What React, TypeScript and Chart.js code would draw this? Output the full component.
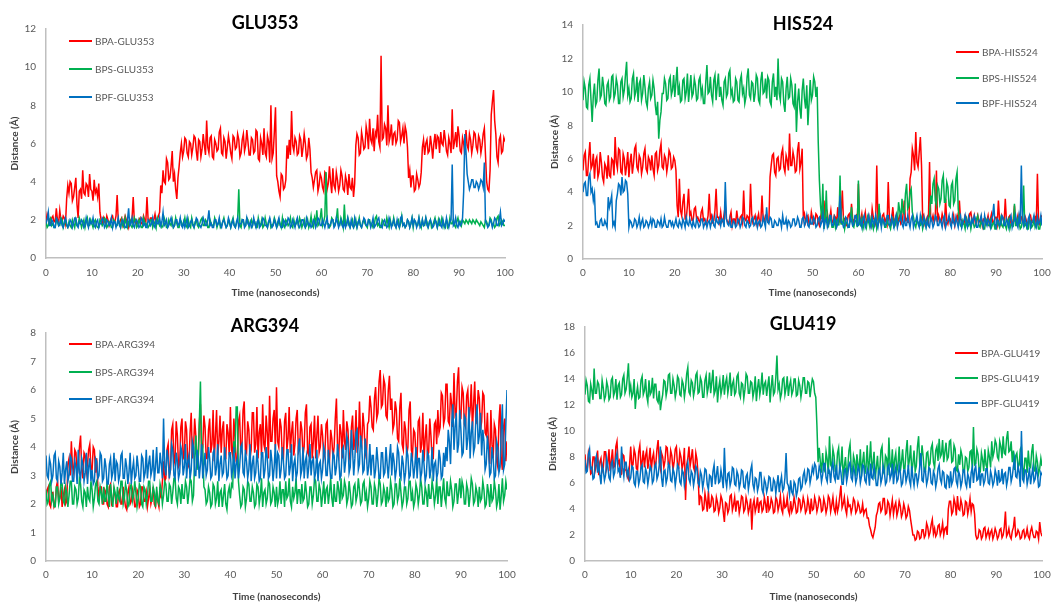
import React, { useEffect, useRef } from "react";
import { Chart, registerables } from "chart.js";

Chart.register(...registerables);
Chart.defaults.font.family = "Lato, 'Open Sans', sans-serif";

// Sampling: one value every 0.25 ns, 0 .. 100 ns (401 values per series)
const TIME_STEP_NS = 0.25;
const X_MIN = 0;
const X_MAX = 100;
const X_STEP = 10;

const SERIES_COLORS = { BPA: "#FF0000", BPS: "#00B050", BPF: "#0070C0" };

// ---------- GLU353 ----------
const GLU353_BPA = [
  1.9,2.3,2.1,1.8,1.8,2.1,2.2,1.9,1.9,2.6,2.0,1.8,2.5,2.0,1.9,2.2,2.1,1.8,3.1,3.8,
  3.4,4.0,3.9,3.0,3.2,3.7,4.2,2.8,2.1,3.5,3.6,3.1,4.6,3.4,3.3,3.9,3.8,3.2,4.4,3.6,
  3.5,3.0,4.1,3.4,3.6,3.2,3.9,2.4,2.0,1.8,2.1,1.9,1.8,2.2,2.0,1.7,1.9,2.1,2.2,1.9,
  1.9,2.2,3.3,1.9,1.8,2.0,2.1,1.7,1.9,2.2,2.0,1.8,1.6,2.0,1.9,2.1,3.2,1.9,2.0,1.8,
  1.9,2.0,2.1,1.8,1.8,2.2,2.0,1.9,3.2,2.0,1.9,2.1,2.1,1.8,2.0,2.3,1.9,2.0,2.2,2.4,
  3.8,3.4,4.6,4.0,3.9,5.2,5.0,4.1,4.2,4.8,5.6,4.0,4.4,3.6,3.1,4.2,4.8,5.5,6.0,5.3,
  5.6,6.3,6.2,5.5,5.3,6.1,6.0,5.4,5.8,6.4,6.3,5.6,5.1,6.2,6.1,5.3,5.7,6.5,5.9,5.4,
  7.2,5.8,5.5,6.3,6.4,5.3,5.2,6.2,6.0,5.6,5.7,6.6,6.8,5.5,5.4,6.3,6.1,5.2,5.8,6.4,
  6.0,5.5,5.2,6.4,6.3,5.7,5.8,6.5,6.2,5.3,5.5,6.2,6.5,5.6,5.9,6.7,6.1,5.4,5.4,6.3,
  6.2,5.5,5.6,6.7,6.6,5.2,5.1,6.3,6.0,5.4,6.8,5.5,5.3,6.4,6.1,5.0,8.0,5.2,5.5,6.6,
  7.9,4.3,4.0,3.5,3.2,4.4,4.3,3.6,3.7,4.1,5.9,5.2,6.2,5.4,7.7,5.9,5.6,6.3,6.1,5.4,
  5.5,6.4,6.2,5.3,5.8,6.5,6.0,5.2,5.4,6.3,5.7,4.5,4.2,3.7,4.1,4.5,4.6,3.5,3.8,4.4,
  4.2,3.7,3.5,4.5,4.4,3.6,3.9,4.8,4.0,3.4,4.7,3.8,3.6,4.5,4.1,3.5,3.8,4.6,4.3,3.6,
  3.5,4.3,4.0,3.3,4.4,3.7,3.6,4.2,3.2,3.9,5.9,6.5,6.3,5.4,5.5,6.6,6.2,5.7,5.8,6.9,
  6.5,5.7,7.3,6.2,6.0,6.8,5.6,6.6,6.4,7.5,6.1,5.8,10.6,6.2,6.3,7.0,6.8,5.9,8.0,6.1,
  6.4,7.0,5.9,6.5,6.6,6.0,6.2,7.2,7.1,6.1,6.4,6.8,6.0,6.9,6.6,5.8,4.2,4.6,3.7,4.3,
  4.3,3.5,3.6,4.4,4.1,3.7,3.9,4.5,5.8,6.2,5.4,6.0,6.2,5.5,5.6,6.4,5.9,5.2,6.0,6.5,
  5.7,6.4,6.3,5.5,6.6,6.0,5.9,6.7,6.2,5.6,5.4,6.3,6.0,5.5,7.8,5.7,6.1,6.6,5.8,6.9,
  6.4,5.6,5.5,6.3,6.0,5.4,6.7,5.9,5.7,6.5,6.2,5.5,5.9,6.6,6.5,5.8,5.6,6.4,6.2,5.5,
  5.9,6.5,6.8,5.4,4.0,3.6,3.5,4.6,7.5,8.2,8.8,7.2,6.5,5.3,5.0,6.2,6.4,5.5,5.6,6.3,
  6.1,
];
const GLU353_BPS = [
  1.9,1.6,1.7,2.0,2.1,1.7,1.8,1.6,1.6,2.0,1.9,1.7,1.7,2.1,2.0,1.6,1.8,2.0,1.7,1.6,
  1.9,1.7,1.6,2.0,1.8,1.6,2.0,1.7,1.7,2.1,1.9,1.6,1.8,2.0,1.6,1.9,2.1,1.7,1.7,2.0,
  1.8,1.6,1.9,2.0,1.7,1.6,1.6,2.0,1.9,1.7,1.8,2.1,2.0,1.6,1.7,1.9,1.8,1.6,1.6,2.0,
  1.9,1.7,1.7,2.0,1.8,1.6,2.0,1.7,1.6,2.1,1.8,1.6,1.9,2.0,1.7,1.6,1.8,2.1,1.9,1.6,
  1.7,2.0,1.8,1.6,1.6,2.1,1.9,1.7,1.8,1.6,1.7,2.0,2.0,1.6,1.8,1.9,1.6,2.1,1.9,1.7,
  1.8,1.6,1.7,2.1,1.9,1.6,1.6,2.0,1.8,1.7,2.0,1.6,1.7,2.1,1.8,1.6,1.6,2.0,1.9,1.7,
  1.8,2.1,1.7,1.6,2.0,1.7,1.6,2.1,1.8,1.6,1.9,2.0,1.7,1.6,1.8,2.0,2.1,1.7,1.7,2.0,
  1.9,1.6,1.6,2.0,1.8,1.7,1.7,2.1,1.9,1.6,1.8,2.0,1.6,1.7,1.9,2.1,1.8,1.6,1.7,2.0,
  1.8,1.6,1.9,2.1,1.7,1.6,1.8,2.0,3.6,1.7,1.6,2.0,1.9,1.7,1.7,2.1,2.0,1.6,1.8,2.0,
  1.7,2.0,1.9,1.6,1.6,2.1,1.8,1.7,2.0,1.6,1.7,2.1,1.8,1.6,1.9,2.0,1.6,1.7,1.8,2.1,
  1.9,1.6,1.7,2.0,1.8,1.6,2.1,1.7,1.6,2.0,1.9,1.7,1.8,2.1,1.7,1.6,2.0,1.7,1.8,2.0,
  1.7,2.1,1.9,1.6,1.8,2.0,1.6,1.7,2.0,1.6,1.8,2.2,1.7,1.6,2.1,1.8,2.5,1.7,1.8,2.1,
  2.6,1.7,1.9,2.2,4.5,1.8,1.8,1.6,1.7,2.1,2.0,1.7,1.8,2.0,2.6,1.7,1.7,2.1,1.9,1.6,
  2.8,1.7,1.7,2.1,1.9,1.6,1.8,2.0,1.6,1.7,2.0,1.6,1.8,2.1,1.7,1.6,1.9,2.0,1.8,1.7,
  1.6,2.0,2.0,1.7,1.8,1.6,1.7,2.1,2.2,1.7,1.8,1.6,1.6,2.0,1.9,1.7,1.7,2.1,1.8,1.6,
  2.0,1.7,1.7,2.1,1.8,1.6,1.9,2.0,1.6,1.8,2.2,1.7,1.8,1.6,1.7,2.0,1.9,1.6,1.8,2.1,
  1.6,2.0,1.9,1.7,1.7,2.1,1.8,1.6,2.0,1.7,1.7,2.1,1.9,1.6,1.8,2.0,1.6,1.7,1.9,2.1,
  1.8,1.6,2.0,1.7,1.7,2.1,1.9,1.6,1.8,2.0,1.6,1.7,2.1,1.8,1.8,2.0,1.7,1.6,1.9,2.1,
  1.8,1.9,1.7,2.0,1.9,1.8,2.0,1.9,1.8,2.0,1.9,1.8,2.0,1.9,1.8,2.0,1.9,1.8,1.7,1.9,
  1.8,1.7,1.6,2.0,1.9,1.7,1.7,2.1,2.0,1.7,1.8,1.6,1.7,2.1,2.2,1.7,1.8,2.0,1.9,1.7,
  1.7,
];
const GLU353_BPF = [
  1.8,2.0,2.4,1.7,1.7,2.0,1.9,1.6,1.6,2.1,2.0,1.7,1.8,2.0,1.7,1.6,1.9,2.1,1.8,1.6,
  1.7,2.0,1.9,1.6,1.8,2.1,2.1,1.7,1.6,1.9,1.8,2.0,1.9,1.6,1.7,2.1,1.8,1.6,2.0,1.8,
  1.8,2.1,1.7,1.6,1.9,2.0,1.6,1.8,1.8,2.1,2.0,1.6,1.7,2.0,1.9,1.7,1.8,2.1,1.6,1.9,
  1.9,1.6,1.8,2.1,1.7,1.6,1.9,2.0,1.8,1.6,1.6,2.0,2.6,1.7,1.8,2.1,1.7,1.6,1.9,2.0,
  1.8,1.6,1.7,2.1,2.0,1.7,1.8,1.6,1.6,2.0,1.9,1.7,1.8,2.1,1.7,1.6,2.0,1.8,1.8,2.1,
  1.7,1.9,2.4,1.7,1.8,2.0,1.6,1.7,1.9,2.1,1.8,1.6,1.7,2.0,2.0,1.7,1.8,2.1,1.7,1.6,
  1.9,1.6,1.8,2.1,1.6,1.7,1.9,2.0,1.7,1.6,1.8,2.1,2.0,1.7,1.7,1.6,1.8,2.1,1.9,1.7,
  1.7,2.0,2.5,1.7,1.8,1.6,1.6,2.0,2.0,1.7,1.8,2.1,1.7,1.6,1.9,2.0,1.8,1.6,1.7,2.1,
  1.9,1.6,1.8,2.0,1.7,1.6,1.9,2.1,1.6,1.8,1.8,2.0,2.0,1.6,1.7,2.1,1.8,1.7,1.9,1.6,
  1.7,2.1,1.8,1.6,1.9,2.0,1.6,1.7,1.8,2.1,2.0,1.7,1.7,1.6,1.9,2.1,1.8,1.6,1.7,2.0,
  1.8,1.6,1.9,2.1,1.7,1.6,1.6,2.0,1.9,1.7,1.8,2.1,2.0,1.6,1.7,2.0,1.8,1.6,1.9,2.1,
  1.7,1.6,1.8,2.0,2.0,1.7,1.6,2.1,1.9,1.7,1.8,1.6,1.7,2.0,1.9,1.6,1.8,2.1,2.0,1.7,
  1.7,2.0,1.8,1.6,1.9,2.1,1.6,1.7,1.8,2.0,2.0,1.6,1.7,2.1,1.9,1.6,1.8,2.0,1.7,1.6,
  1.9,1.6,1.8,2.1,1.7,1.6,2.0,1.7,1.6,2.1,1.8,1.6,1.9,2.0,1.7,1.6,1.8,2.1,2.0,1.7,
  1.7,2.0,1.9,1.6,1.8,2.1,1.6,1.7,1.8,2.0,2.1,1.7,1.7,1.6,1.9,2.0,1.8,1.6,1.7,2.1,
  1.9,1.6,1.8,2.0,1.7,1.6,2.0,1.7,1.6,2.1,2.2,1.7,1.8,1.6,1.7,2.0,1.9,1.6,1.8,2.1,
  1.7,2.0,1.9,1.6,1.8,2.1,1.6,1.7,2.0,1.7,1.8,2.1,1.7,1.6,1.9,2.0,1.8,1.6,1.7,2.0,
  1.9,1.6,1.8,2.0,1.7,1.6,2.0,1.7,1.6,2.1,1.8,1.6,1.9,2.0,4.9,1.7,1.8,2.1,1.7,1.6,
  1.9,1.7,1.8,2.1,3.5,6.5,5.6,4.4,4.0,3.6,3.8,4.1,4.1,3.7,3.7,4.0,3.9,3.6,3.8,4.1,
  4.0,3.7,5.0,1.9,1.8,1.6,1.7,2.0,1.9,1.6,1.8,2.1,2.0,1.7,1.7,2.0,2.4,1.7,1.8,2.0,
  1.9,
];

// ---------- HIS524 ----------
const HIS524_BPA = [
  5.3,6.2,6.4,5.0,5.0,6.1,7.0,5.4,5.6,6.3,4.8,5.9,6.1,4.9,5.2,6.4,5.8,4.9,4.6,5.7,
  5.5,4.8,6.2,5.0,4.9,6.0,5.9,5.0,7.3,5.8,5.4,6.6,6.5,5.2,5.1,6.3,6.0,5.0,5.6,6.4,
  4.9,5.8,6.3,5.1,5.7,6.6,6.8,5.5,5.3,6.2,6.0,5.1,5.5,6.3,6.6,5.4,5.2,6.1,5.9,5.3,
  6.2,5.4,5.0,6.3,6.4,5.3,5.6,6.5,6.9,5.5,5.4,6.2,6.0,5.2,5.7,6.5,6.3,5.4,5.5,6.1,
  5.9,5.3,3.2,2.5,4.8,2.9,2.6,3.4,3.9,2.4,2.4,3.2,4.2,2.6,2.8,2.3,2.3,3.0,3.1,2.4,
  2.5,2.3,2.2,2.8,3.0,2.3,2.4,2.1,2.2,2.6,3.9,2.4,2.6,2.2,2.3,2.9,4.2,2.5,2.5,2.2,
  2.8,2.2,2.3,2.7,3.2,2.4,2.2,2.1,2.5,2.8,2.0,2.4,2.4,2.1,2.9,2.3,2.1,2.5,2.6,2.2,
  4.1,2.4,2.3,2.6,2.5,2.1,4.5,2.7,2.2,2.4,2.6,2.1,2.4,2.7,2.1,2.3,3.8,2.4,2.3,2.6,
  2.5,2.2,2.2,4.9,5.6,6.2,6.3,5.2,5.0,6.0,6.1,5.3,5.4,6.3,6.6,5.5,5.2,6.2,5.9,5.3,
  7.5,5.6,5.6,6.4,6.0,5.2,5.3,6.5,7.0,5.4,5.8,6.6,2.4,2.7,2.2,2.5,2.6,2.1,2.1,2.8,
  2.4,2.1,2.2,2.7,2.6,2.2,2.0,2.5,2.8,2.2,3.5,2.3,2.3,2.7,2.1,2.4,2.9,2.2,2.2,2.6,
  2.5,2.1,3.1,2.3,2.2,2.7,4.1,2.3,2.4,2.1,2.0,2.6,2.7,2.2,3.3,2.4,2.2,2.5,2.6,2.1,
  4.5,2.3,2.3,2.7,2.1,2.4,2.8,2.2,2.4,2.6,2.2,2.0,3.0,2.5,2.3,2.1,5.6,2.4,2.5,2.2,
  2.1,2.6,2.7,2.2,2.4,2.1,4.6,2.5,2.2,2.4,3.1,2.2,2.3,2.6,2.0,2.4,2.6,2.1,2.2,2.7,
  3.5,2.3,2.4,2.2,2.2,4.8,5.2,6.6,6.2,5.3,7.6,5.8,5.5,6.4,7.3,5.6,2.4,2.6,2.1,2.3,
  2.5,2.2,5.8,2.4,2.3,2.6,2.2,2.4,5.3,2.2,2.6,2.3,2.2,2.7,2.4,2.1,3.6,2.3,2.1,2.5,
  2.4,2.1,2.2,2.6,2.0,2.3,2.6,2.2,3.5,2.4,2.3,2.1,2.1,2.6,2.5,2.2,2.2,2.7,2.8,2.3,
  2.3,2.6,2.1,2.2,2.6,2.3,2.2,2.5,2.0,2.4,2.4,2.1,2.3,2.6,2.1,2.4,2.7,2.2,2.2,2.5,
  2.5,2.1,3.5,2.4,2.1,2.6,2.4,2.2,3.6,2.3,2.2,2.5,2.6,2.1,2.0,2.4,3.2,2.2,2.3,2.6,
  2.1,2.4,2.5,2.2,2.2,2.6,2.4,2.1,2.0,2.5,2.6,2.2,2.2,2.4,2.5,2.1,5.1,2.3,2.1,2.5,
  2.6,
];
const HIS524_BPS = [
  9.5,10.6,10.2,9.1,9.0,10.4,10.8,9.5,8.2,9.8,10.5,9.2,9.4,10.7,11.4,9.6,9.8,10.9,10.3,9.3,
  9.2,10.4,10.6,9.5,9.7,10.9,11.0,9.6,9.9,10.8,10.4,9.3,9.3,10.6,10.8,9.7,10.1,11.0,11.8,9.8,
  10.2,9.4,9.6,10.8,11.1,9.7,10.0,10.9,9.4,10.5,10.7,9.5,9.9,11.0,10.3,9.4,9.1,10.2,10.6,9.6,
  9.8,10.7,10.2,9.2,8.6,9.4,7.2,8.3,8.8,9.9,9.9,10.8,10.5,9.5,9.6,10.7,10.9,9.8,10.1,11.0,
  9.7,10.6,11.5,9.8,10.3,9.4,9.5,10.7,10.8,9.6,10.0,11.1,9.4,10.2,11.0,9.7,9.9,10.8,10.4,9.5,
  9.6,10.7,10.9,9.8,10.2,9.3,9.3,10.6,11.6,9.9,10.0,10.9,9.8,9.4,10.7,11.0,9.5,10.4,11.1,9.7,
  10.3,9.5,9.2,10.6,10.8,9.7,9.9,11.1,11.3,9.8,10.1,9.4,9.5,10.8,10.6,9.5,9.4,10.7,11.0,9.9,
  10.2,9.3,9.7,10.9,11.4,9.8,9.6,10.6,10.5,9.4,9.9,11.0,10.8,9.5,9.3,10.7,11.2,9.9,10.0,10.8,
  9.6,10.9,10.7,9.4,9.2,10.6,11.1,9.7,10.3,9.5,12.0,9.9,9.5,10.8,10.6,9.3,8.8,10.2,10.9,9.6,
  9.7,10.8,10.4,9.3,9.1,10.5,7.6,9.4,10.2,9.0,8.4,10.1,10.8,9.6,9.0,10.4,8.0,9.3,10.7,9.5,
  9.8,10.9,10.6,9.7,10.3,7.0,4.7,3.2,2.4,4.5,1.8,2.3,4.1,2.2,2.0,2.5,2.3,1.9,1.9,2.4,
  1.9,2.3,2.4,2.0,5.0,2.1,2.1,2.4,1.8,2.2,2.2,1.9,2.0,2.4,3.1,2.0,1.9,2.3,2.3,1.9,
  4.7,2.1,2.0,2.4,1.8,2.1,2.2,1.9,2.5,2.2,1.9,2.4,2.1,1.8,2.3,2.5,1.8,2.1,3.3,2.2,
  2.0,2.4,2.2,1.9,1.9,2.3,2.1,2.0,1.8,2.2,2.4,1.9,2.0,2.6,2.2,3.4,2.9,2.3,3.6,2.8,
  2.7,3.9,4.5,3.0,3.2,4.0,4.2,2.8,2.5,2.1,1.9,2.3,2.2,2.0,2.0,2.4,1.8,2.1,2.3,1.9,
  2.1,2.4,2.6,3.8,3.3,4.5,4.8,3.5,3.2,4.4,4.2,3.3,3.6,4.7,5.0,3.4,3.4,4.6,4.3,3.2,
  3.1,4.4,4.6,3.3,3.5,4.8,5.2,3.0,2.3,2.0,1.9,2.3,2.1,1.8,2.4,2.1,2.0,2.3,1.8,2.2,
  2.2,1.9,2.0,2.4,2.6,2.0,1.9,2.3,2.1,1.8,1.8,2.4,2.3,2.0,2.0,2.3,1.9,2.1,2.2,1.8,
  1.8,2.3,2.1,1.9,2.4,2.0,1.9,2.3,2.0,1.8,2.2,2.4,1.8,2.1,2.1,2.0,3.3,2.0,2.0,2.4,
  2.2,1.8,1.9,2.3,4.4,2.0,2.1,1.8,1.8,2.3,2.3,1.9,2.0,2.4,1.9,2.1,2.2,1.8,1.8,2.2,
  2.1,
];
const HIS524_BPF = [
  4.0,4.5,4.6,3.8,3.8,4.9,5.1,4.0,4.2,3.5,3.9,2.1,2.2,1.9,1.9,2.3,2.4,2.0,2.0,2.3,
  2.1,1.9,3.7,3.1,3.4,3.8,2.0,2.2,1.9,3.5,3.9,4.5,4.4,3.8,4.9,4.0,4.1,4.7,4.6,3.9,
  1.9,2.3,2.2,1.9,2.0,2.4,2.3,1.9,2.1,2.5,1.9,2.2,2.4,1.9,2.0,2.3,2.2,1.9,2.1,2.4,
  2.0,2.4,2.3,1.9,1.9,2.3,2.2,2.0,2.4,1.9,2.0,2.5,2.1,1.9,1.9,2.3,2.3,2.0,2.2,1.9,
  2.1,2.4,2.0,1.9,2.3,2.1,1.9,2.4,2.2,1.9,2.5,2.1,2.0,2.4,2.1,1.9,2.3,2.0,1.9,2.4,
  2.2,1.9,2.0,2.4,2.4,1.9,2.1,2.3,1.9,2.2,2.3,1.9,2.2,2.5,2.0,1.9,2.5,2.2,2.1,2.4,
  2.0,2.4,2.3,1.9,4.6,2.4,2.1,2.0,2.4,1.9,1.9,2.3,2.2,1.9,2.0,2.4,2.3,1.9,2.1,2.5,
  2.4,2.0,1.9,2.3,2.2,1.9,2.0,2.4,2.5,2.0,2.1,2.4,1.9,2.2,2.3,1.9,2.0,2.5,2.2,1.9,
  3.1,2.2,2.1,2.5,2.4,1.9,1.9,2.3,2.2,2.0,2.0,2.4,2.3,1.9,2.6,2.1,2.1,2.4,1.9,2.3,
  2.2,1.9,2.0,2.4,2.4,2.0,2.1,2.5,2.3,1.9,1.9,2.4,2.5,2.0,2.2,2.6,2.0,1.9,2.4,2.1,
  2.1,2.5,2.3,1.9,2.0,2.4,2.5,2.0,2.2,2.7,1.9,2.3,2.4,1.9,2.1,2.6,2.6,2.0,2.0,2.5,
  2.3,1.9,2.1,2.6,3.8,2.2,2.2,1.9,2.0,2.5,2.4,1.9,1.9,2.5,2.3,2.0,2.1,2.6,2.6,2.0,
  2.0,2.5,2.2,1.9,2.4,2.6,1.9,2.1,2.3,2.6,2.1,1.9,2.5,2.2,2.0,2.6,2.2,1.9,2.4,2.6,
  1.9,2.4,2.3,2.0,2.1,2.6,2.6,2.0,2.0,2.5,2.2,1.9,2.4,2.6,1.9,2.2,2.3,2.6,2.1,1.9,
  2.5,2.0,2.0,2.6,2.2,1.9,2.4,2.6,1.9,2.2,2.3,2.6,2.1,1.9,2.6,2.2,2.0,2.5,2.2,1.9,
  2.4,2.0,1.9,2.5,2.3,1.9,2.1,2.6,2.5,2.0,2.0,2.4,2.2,1.9,2.4,2.6,1.9,2.2,2.3,2.6,
  2.1,1.9,2.6,2.2,2.0,2.5,2.2,1.9,2.4,2.6,1.9,2.2,2.3,2.6,2.1,1.9,2.5,2.2,2.0,2.4,
  2.2,2.6,2.4,1.9,1.9,2.3,2.3,2.6,2.1,1.9,2.6,2.2,2.0,2.4,2.2,1.9,2.4,2.6,3.3,2.1,
  1.9,2.4,2.3,2.0,2.1,2.6,2.5,2.0,2.0,2.4,2.2,1.9,2.4,2.6,1.9,2.2,2.3,2.6,2.1,1.9,
  2.6,2.1,5.6,2.3,2.0,2.5,2.2,1.9,2.4,2.6,1.9,2.2,2.3,2.6,2.1,1.9,2.5,2.1,2.2,2.6,
  2.0,
];

// ---------- ARG394 ----------
const ARG394_BPA = [
  2.1,2.5,2.6,2.0,1.9,2.4,2.4,1.9,2.0,2.6,2.8,2.1,2.2,2.6,1.9,2.3,2.5,2.0,2.1,3.4,
  3.6,3.0,4.2,3.3,3.1,3.9,3.8,3.0,3.3,4.0,4.4,3.2,2.9,3.8,3.7,3.1,3.4,3.9,4.1,3.2,
  3.2,4.0,3.9,3.1,3.6,2.6,2.2,2.6,2.6,2.0,2.0,2.5,2.4,2.0,1.9,2.6,2.7,2.0,2.1,2.5,
  2.3,1.9,1.9,2.4,2.5,2.0,2.0,2.6,2.2,1.9,1.8,2.4,2.6,2.0,2.1,2.5,2.3,1.9,1.9,2.5,
  2.4,1.9,2.0,2.6,2.6,2.1,2.1,2.4,1.9,2.2,2.5,2.0,2.2,2.6,2.0,1.9,2.4,2.1,1.9,2.6,
  2.2,2.8,3.5,2.8,2.9,3.9,4.1,3.0,3.2,4.6,4.8,3.4,3.6,4.9,4.4,3.3,3.4,4.7,5.0,3.6,
  3.7,4.9,4.6,3.4,3.3,4.5,5.2,3.6,3.9,5.0,4.4,3.5,3.5,4.8,5.5,3.8,4.0,5.1,4.7,3.6,
  3.6,4.6,5.0,3.8,4.1,5.3,3.5,4.4,5.3,3.7,4.2,5.1,3.8,4.6,4.9,3.6,3.6,4.8,4.5,3.7,
  5.4,3.9,3.7,5.0,4.3,3.5,3.4,4.9,5.1,3.8,4.0,5.3,5.6,3.9,3.8,4.9,4.6,3.6,3.9,5.2,
  5.2,3.8,4.1,5.4,3.6,4.5,4.8,3.7,5.5,4.1,3.9,5.1,4.5,3.6,5.8,4.2,4.2,5.0,5.3,3.9,
  6.1,4.2,4.0,5.0,4.7,3.7,3.6,4.9,5.2,3.9,4.3,5.4,3.8,4.5,4.9,3.7,4.1,5.0,5.3,3.8,
  3.9,4.9,4.6,3.7,4.0,5.2,5.5,3.8,3.7,4.7,4.8,3.6,4.2,5.1,3.6,4.4,5.1,3.8,4.0,4.8,
  4.4,3.6,3.8,4.8,4.9,3.7,3.5,4.6,4.3,3.6,4.0,5.0,5.7,3.9,3.7,4.8,4.5,3.6,5.3,4.2,
  3.9,4.9,4.6,3.7,3.5,4.7,5.1,3.9,4.2,5.3,3.8,4.1,5.6,4.3,4.1,5.2,4.7,3.8,3.6,4.8,
  4.9,5.8,5.4,4.7,4.6,5.7,6.1,5.0,5.2,6.3,6.7,5.4,5.5,6.4,6.2,5.1,5.0,6.0,6.5,5.3,
  5.7,4.6,4.8,5.6,5.3,4.3,4.2,5.4,5.9,4.1,3.9,4.9,4.6,3.7,4.0,5.3,5.6,3.9,3.7,4.6,
  4.5,3.7,3.6,4.9,5.0,3.8,4.1,5.2,3.5,4.3,4.8,3.7,3.8,5.0,4.4,3.6,3.6,4.8,4.9,4.1,
  5.3,4.5,4.7,5.9,5.8,4.8,5.0,6.2,6.2,4.9,4.8,5.9,5.5,4.7,6.6,5.1,5.2,6.3,6.8,5.0,
  5.0,6.1,5.9,4.8,4.7,5.8,6.0,4.9,5.3,6.2,4.6,5.5,6.3,4.8,5.1,6.0,5.7,4.6,4.9,5.9,
  5.8,4.5,4.4,5.2,4.0,3.4,5.3,4.1,3.6,4.8,4.6,3.5,3.3,4.9,5.5,3.6,3.2,4.7,5.0,3.5,
  4.2,
];
const ARG394_BPS = [
  2.5,2.0,2.1,2.7,2.8,2.1,2.3,1.9,1.9,2.6,2.6,2.0,2.2,2.8,2.7,2.1,2.0,2.6,2.4,1.9,
  2.3,2.8,2.8,2.0,2.0,2.6,2.5,2.0,2.2,2.9,2.7,2.1,1.9,2.5,2.4,1.9,2.6,2.2,2.1,2.8,
  2.5,1.9,2.2,2.7,2.8,2.1,2.0,2.6,2.4,2.0,2.6,2.1,2.1,2.8,2.3,1.9,2.7,2.2,1.9,2.6,
  2.4,2.0,2.6,2.2,2.1,2.8,2.8,2.0,2.2,2.7,2.5,1.9,2.0,2.6,2.7,2.1,2.3,2.8,2.4,1.9,
  2.2,2.7,2.6,2.0,1.9,2.6,2.5,2.0,2.3,2.8,2.8,2.1,2.1,2.6,2.4,1.9,2.6,2.1,2.0,2.7,
  2.5,2.0,2.3,2.8,2.7,2.1,2.1,2.7,2.6,2.0,2.4,2.9,2.9,2.2,2.0,2.6,2.5,2.0,2.7,2.2,
  2.2,2.8,2.6,2.0,2.4,2.9,2.8,2.1,2.3,3.6,4.4,3.2,3.5,4.8,6.3,3.9,4.0,2.6,2.5,2.0,
  2.1,2.6,2.4,1.9,2.0,2.7,2.6,2.0,2.2,2.8,1.9,2.4,2.5,1.9,2.3,2.7,2.0,1.8,2.4,2.6,
  2.2,2.7,2.6,4.2,3.8,5.4,5.4,2.8,2.3,1.9,2.0,2.6,2.5,1.9,2.2,2.8,2.7,2.1,2.1,2.6,
  2.4,1.9,2.0,2.7,2.6,2.0,2.3,2.9,1.9,2.4,2.5,2.0,2.2,2.8,2.7,2.0,2.1,2.6,2.4,1.9,
  2.6,2.0,2.2,2.8,2.0,2.5,2.5,1.9,2.8,2.2,2.3,2.9,2.1,1.9,2.6,2.2,2.4,2.9,2.0,2.5,
  2.5,2.0,2.7,2.1,2.2,2.8,2.4,1.9,2.0,2.6,2.6,2.0,2.3,2.9,2.8,2.1,2.1,2.7,2.5,1.9,
  2.3,2.8,2.0,2.5,2.6,2.0,2.4,2.9,2.2,1.9,2.7,2.1,2.1,2.8,2.5,2.0,2.9,2.2,2.3,2.8,
  2.6,2.0,2.2,2.8,2.4,1.9,2.0,2.6,2.7,2.1,2.3,2.9,2.5,2.0,2.1,2.7,2.8,2.1,2.4,1.9,
  2.2,2.8,2.6,2.0,2.0,2.7,2.5,1.9,2.3,2.9,2.7,2.0,2.1,2.6,2.4,1.9,2.6,2.1,2.2,2.8,
  2.5,1.9,2.0,2.7,2.7,2.1,2.3,2.9,2.4,1.9,2.1,2.6,2.6,2.0,2.2,2.8,2.8,2.1,2.4,1.9,
  2.1,2.7,2.5,2.0,2.3,2.9,2.6,2.0,2.0,2.6,2.4,1.9,2.7,2.2,2.2,2.8,2.5,2.0,2.3,2.9,
  2.0,2.6,2.6,1.9,2.4,2.9,2.2,2.0,2.8,2.3,2.3,2.8,2.5,1.9,2.1,2.7,2.7,2.0,2.4,2.9,
  2.2,2.8,2.6,2.0,2.0,2.7,2.5,1.9,2.3,2.9,2.7,2.0,2.1,2.6,2.4,1.9,2.6,2.1,2.2,2.8,
  2.5,1.9,2.0,2.7,2.4,1.9,2.7,2.1,2.2,2.8,2.5,1.9,2.1,2.7,1.8,2.3,2.9,2.1,2.3,2.8,
  2.5,
];
const ARG394_BPF = [
  3.7,3.0,2.9,3.6,3.4,2.8,3.0,3.7,3.8,2.9,2.8,3.5,3.3,2.7,3.1,3.8,2.7,3.2,3.5,2.8,
  3.0,3.7,3.6,2.8,2.8,3.5,3.3,2.7,3.9,3.1,2.9,3.6,3.4,2.8,3.1,3.8,2.7,3.3,3.6,2.8,
  3.2,2.7,2.8,3.6,3.5,2.9,3.0,3.8,3.7,2.8,2.9,3.6,3.3,2.7,2.7,3.4,3.6,2.9,3.1,3.8,
  2.8,3.5,3.4,2.8,3.0,3.7,3.8,2.9,2.9,3.6,3.3,2.7,3.1,3.8,2.7,3.2,3.5,2.9,3.0,3.7,
  3.3,2.8,2.8,3.7,3.6,2.9,3.1,3.9,2.9,3.4,3.7,3.0,3.2,3.9,2.8,3.3,4.0,3.1,3.1,3.8,
  3.4,2.9,5.0,3.3,3.0,3.9,3.6,2.9,3.2,4.1,3.9,3.0,2.9,3.8,3.5,2.9,3.1,4.0,3.8,3.0,
  3.3,4.1,2.9,3.5,3.7,2.9,3.2,4.2,4.0,3.0,3.0,3.9,3.6,2.9,3.4,4.1,2.9,3.3,3.8,3.0,
  3.2,4.0,3.6,2.9,3.0,3.8,3.9,3.0,3.3,4.1,2.8,3.4,3.7,3.0,3.1,4.0,3.5,2.9,3.0,3.8,
  3.8,3.0,3.2,4.0,2.9,3.4,3.6,2.9,3.3,4.0,4.1,3.1,3.0,3.9,3.5,2.9,3.2,4.1,2.8,3.4,
  3.7,2.9,3.1,3.9,3.4,2.8,2.9,3.8,3.8,2.9,3.2,4.0,3.6,2.9,3.0,3.9,3.5,2.8,3.3,4.1,
  2.9,3.8,3.7,2.9,3.2,4.0,3.5,2.9,3.0,3.9,3.9,3.0,3.3,4.1,2.8,3.4,3.6,2.9,3.1,4.0,
  4.3,3.0,3.2,4.0,2.9,3.5,3.7,2.9,3.3,4.1,3.0,3.5,3.6,2.9,3.1,3.9,2.8,3.4,3.5,2.9,
  3.2,4.0,3.8,3.0,3.0,3.9,3.4,2.9,2.9,3.8,3.7,3.0,3.3,4.1,3.6,2.9,3.0,3.9,4.0,3.1,
  3.5,4.4,4.2,3.1,3.3,4.6,3.9,3.0,3.6,4.5,4.6,3.2,3.4,4.4,4.0,3.1,3.2,4.3,3.8,3.0,
  3.3,4.1,3.0,3.7,3.7,2.9,3.2,4.0,3.5,2.9,2.9,3.8,3.8,3.0,3.1,4.0,3.4,2.9,3.6,4.1,
  3.0,3.8,3.5,2.9,3.2,4.0,3.8,3.0,2.9,3.7,3.4,2.8,3.1,3.9,3.7,2.9,3.0,3.8,3.5,2.9,
  3.3,4.0,2.9,3.6,3.6,2.9,3.1,3.9,3.4,2.8,3.0,3.8,3.7,2.9,3.2,4.0,2.8,3.4,3.5,2.9,
  3.1,3.9,3.6,2.9,3.0,3.8,3.3,4.0,3.5,4.6,4.2,3.4,4.8,5.5,3.9,4.7,5.2,3.8,4.1,5.3,
  4.6,3.7,3.8,5.1,5.0,3.9,4.3,5.4,3.6,4.5,4.9,3.8,4.0,5.0,5.5,4.1,4.4,5.2,3.7,4.6,
  4.2,3.2,3.4,4.4,3.9,3.0,3.1,4.0,3.6,2.9,3.0,4.2,4.0,3.1,3.3,4.6,5.5,3.2,3.4,4.8,
  6.0,
];

// ---------- GLU419 ----------
const GLU419_BPA = [
  8.2,7.0,7.1,8.3,7.8,6.7,6.8,8.0,8.0,7.0,7.4,8.5,6.6,7.6,7.9,6.9,7.2,8.4,8.4,7.1,
  7.5,8.6,6.9,7.7,8.6,7.2,7.3,8.8,9.2,7.5,7.7,6.6,6.7,8.2,8.1,7.0,7.0,6.5,6.3,7.4,
  8.8,7.3,7.4,8.6,8.2,7.1,7.0,8.4,8.9,7.3,7.6,8.5,7.2,8.1,8.5,7.1,7.8,8.7,6.9,7.9,
  8.3,7.2,7.5,8.6,9.3,7.6,7.1,8.3,8.0,7.2,7.7,8.8,8.7,7.4,7.3,8.5,8.1,7.0,7.6,8.6,
  8.8,7.3,7.2,8.4,8.0,7.1,7.5,8.7,4.7,7.4,7.9,8.8,7.3,7.9,8.6,7.2,6.9,8.3,7.8,6.6,
  4.3,5.0,4.9,3.9,4.0,5.2,4.6,3.8,5.4,4.1,4.2,5.0,4.8,3.8,3.9,4.9,4.5,3.7,4.1,5.0,
  4.7,3.8,3.0,4.5,4.4,3.7,4.0,5.0,5.1,3.9,4.3,4.9,3.8,4.6,4.6,3.7,4.2,5.0,4.9,3.8,
  4.0,4.9,4.5,3.7,4.1,4.8,2.4,4.3,4.7,3.8,4.2,4.9,3.7,4.5,4.6,3.8,4.0,4.9,4.4,3.7,
  5.0,3.9,4.1,4.8,4.5,3.7,3.8,4.9,4.7,3.9,4.3,5.0,4.0,3.7,4.8,4.1,4.2,4.9,3.9,3.6,
  4.6,3.8,4.1,4.9,4.4,3.7,3.8,4.8,4.7,3.9,4.2,4.9,4.5,3.7,3.9,4.8,4.3,3.6,4.8,3.9,
  4.0,4.9,4.5,3.8,4.2,4.9,4.7,3.8,3.9,4.8,4.4,3.7,4.1,5.0,4.8,3.8,4.3,4.9,4.0,3.7,
  4.6,3.8,4.2,5.0,5.8,4.1,4.4,4.9,4.0,3.6,4.7,4.2,4.3,3.7,4.1,4.8,4.6,3.7,3.9,4.5,
  4.2,3.7,3.8,4.4,3.6,3.9,4.0,3.3,3.3,2.7,2.4,2.0,1.8,2.2,2.6,3.5,3.8,4.4,4.5,3.8,
  4.0,4.8,4.8,3.6,3.7,4.6,4.4,3.5,4.1,4.7,3.6,4.2,4.5,3.5,3.9,4.6,4.2,3.4,3.7,4.4,
  4.0,3.3,3.5,4.2,3.9,3.2,2.6,2.0,2.0,1.6,1.7,2.3,2.2,1.7,1.8,2.4,2.4,1.8,2.0,2.9,
  2.6,1.9,2.2,2.8,3.2,2.1,2.5,1.9,2.1,2.7,2.8,2.0,2.3,2.9,2.0,2.5,2.6,2.0,4.0,4.6,
  4.6,3.6,3.8,4.8,4.4,3.5,5.0,4.0,3.9,4.7,4.3,3.5,3.6,4.6,4.5,3.6,4.1,4.8,3.8,4.4,
  4.3,3.6,2.0,1.7,1.8,2.4,2.3,1.7,1.9,2.5,2.6,1.8,2.1,2.4,1.8,2.2,2.4,1.7,2.0,2.5,
  2.2,1.7,1.9,2.4,2.5,1.8,2.0,2.6,3.8,1.9,2.1,2.5,1.9,1.7,2.3,2.6,3.4,1.9,2.0,2.4,
  2.2,1.7,1.8,2.3,2.4,1.8,2.0,2.5,1.9,1.7,2.3,2.6,2.1,1.8,1.8,2.3,2.2,1.7,3.0,2.2,
  1.9,
];
const GLU419_BPS = [
  12.8,13.9,13.5,12.3,12.2,13.6,13.1,12.4,14.8,12.9,12.9,13.8,13.6,12.5,12.5,13.9,13.3,12.4,12.7,13.8,
  13.4,12.4,12.6,13.9,14.1,12.7,13.0,14.0,12.4,13.5,13.7,12.6,12.8,14.0,14.3,12.9,13.2,14.1,15.2,13.0,
  13.5,12.6,12.9,14.0,11.7,12.8,13.4,12.5,12.6,13.9,14.2,12.8,13.1,14.0,12.7,12.2,13.9,12.8,13.0,14.1,
  12.5,13.6,13.6,12.4,12.2,13.1,11.6,12.3,12.8,13.9,13.8,12.7,13.2,14.3,14.4,12.9,12.9,14.0,13.5,12.6,
  13.1,14.2,14.0,12.8,12.7,13.9,13.6,12.6,13.3,14.4,14.9,13.0,12.8,13.9,13.7,12.7,13.2,14.3,14.5,12.9,
  13.0,14.1,13.8,12.6,12.6,13.9,14.3,12.9,13.4,14.5,12.9,13.8,14.7,12.8,13.1,14.2,12.2,13.3,13.9,12.8,
  13.3,14.3,12.8,13.7,14.1,12.9,13.5,14.5,12.7,13.6,13.9,12.8,13.0,14.2,14.4,12.9,12.6,13.7,13.6,12.5,
  13.2,14.4,14.2,12.9,12.9,13.8,13.7,12.6,13.1,14.2,12.3,13.3,14.0,12.8,13.4,14.5,12.8,13.6,13.8,12.7,
  13.5,14.2,12.2,13.4,14.3,12.8,13.0,14.1,15.8,13.2,13.6,12.5,12.9,14.0,14.1,12.8,13.3,14.2,12.7,13.5,
  13.9,12.8,13.1,14.0,14.0,12.7,12.8,13.9,13.5,12.6,13.2,14.1,14.1,12.9,12.9,13.8,13.7,12.6,13.4,14.0,
  13.8,12.9,12.6,10.4,7.6,8.7,7.6,6.8,8.3,7.1,6.9,8.4,7.8,6.7,9.6,7.4,7.2,8.6,8.1,6.9,
  6.8,8.3,8.7,7.0,7.4,8.8,6.2,7.3,8.0,6.6,7.1,8.5,9.0,7.2,6.6,8.1,7.7,6.5,8.2,7.4,
  7.0,8.6,6.5,7.6,8.4,6.7,7.3,8.9,6.8,7.7,9.2,7.0,7.5,8.4,6.3,7.2,8.1,6.6,7.0,8.5,
  8.8,6.9,6.7,8.1,7.9,6.6,9.5,7.4,7.2,8.6,6.6,7.8,8.3,6.9,7.4,8.8,6.9,7.6,8.6,7.1,
  7.1,8.4,9.3,7.2,7.8,8.9,6.8,7.5,8.5,6.9,7.3,8.8,9.6,7.4,7.6,8.9,8.0,6.9,6.9,8.3,
  8.4,7.3,7.5,8.7,9.0,7.6,7.2,8.5,8.8,7.7,9.4,8.0,8.2,9.3,7.6,8.4,9.1,7.8,8.0,9.2,
  9.3,7.6,7.7,8.9,8.6,7.0,6.9,8.2,7.4,8.5,8.1,6.9,6.8,8.0,7.9,6.9,7.2,8.4,8.5,7.0,
  10.3,7.4,7.5,8.6,8.2,7.0,6.9,8.3,7.8,6.9,8.6,7.4,7.1,8.5,8.0,7.2,9.2,8.0,8.4,9.3,
  9.0,8.0,7.8,9.2,8.8,7.9,9.6,8.3,8.2,9.4,10.0,8.4,8.5,9.2,7.6,8.5,7.0,8.1,8.3,7.2,
  7.4,8.6,8.8,7.1,6.6,7.9,7.9,6.8,8.5,7.3,7.2,8.4,9.0,7.0,6.9,8.1,7.6,6.7,7.1,7.9,
  7.3,
];
const GLU419_BPF = [
  7.8,6.8,6.9,8.2,8.6,7.1,7.2,6.3,6.4,7.8,8.1,6.8,7.5,6.6,5.9,7.4,7.0,6.2,6.6,7.9,
  7.3,6.4,6.2,7.5,7.7,6.5,6.8,7.9,8.3,6.9,7.1,6.4,8.8,7.2,6.5,7.6,7.6,6.6,7.0,6.2,
  6.4,7.3,7.2,6.0,5.8,6.9,6.9,5.9,6.3,7.2,7.4,6.1,6.0,7.1,6.8,5.9,6.5,7.3,7.1,6.0,
  6.2,7.3,7.5,6.3,6.6,7.4,8.8,6.4,5.7,6.9,7.0,6.0,6.4,7.5,7.3,6.2,6.1,7.1,6.8,5.8,
  6.5,7.4,7.2,6.1,5.9,7.0,6.8,5.8,6.3,7.2,7.6,6.3,6.0,6.9,6.7,5.8,6.4,7.3,7.1,6.0,
  5.8,6.9,6.6,5.6,6.2,7.1,7.0,5.9,5.5,6.6,6.5,5.7,6.9,7.4,5.9,6.6,7.3,6.0,6.1,7.0,
  6.4,5.6,8.7,6.3,5.7,6.7,6.8,5.8,6.2,7.2,7.1,5.9,5.8,6.9,6.6,5.6,6.0,7.0,6.9,5.7,
  5.6,6.5,6.7,5.5,6.1,7.0,7.4,5.9,5.5,6.4,6.3,5.4,5.8,6.8,6.8,5.5,5.2,6.3,6.0,5.3,
  5.7,6.5,6.4,5.4,5.4,6.3,6.1,5.2,5.9,6.6,5.3,6.0,6.5,5.4,5.6,6.4,8.3,6.0,5.8,5.1,
  6.2,5.3,5.1,6.1,5.9,5.0,5.4,6.3,6.4,5.5,5.7,6.6,6.9,6.0,6.2,7.1,7.0,6.0,6.5,7.2,
  6.8,7.5,7.3,6.3,6.4,7.3,7.0,6.1,6.6,7.5,7.5,6.4,6.1,7.1,6.9,6.0,7.2,7.6,6.5,6.2,
  7.4,6.3,6.3,7.3,6.8,5.9,5.9,7.0,7.1,6.1,6.6,7.4,7.6,6.4,6.2,7.2,6.9,6.0,6.4,7.3,
  7.0,6.0,6.5,7.4,7.3,6.2,6.0,7.1,6.8,5.8,7.5,6.4,6.3,7.3,6.7,5.8,5.8,6.9,7.1,6.0,
  6.4,7.3,6.9,5.9,6.1,7.2,7.4,6.3,6.6,7.5,5.9,6.8,7.2,6.1,6.3,7.3,6.8,5.8,6.0,7.0,
  7.0,6.1,6.5,7.4,6.2,5.8,7.3,6.4,5.8,6.7,6.7,5.9,6.4,7.3,8.3,6.2,6.1,7.1,6.9,5.9,
  6.3,7.2,7.1,6.0,5.9,6.9,6.6,5.7,6.2,7.1,7.4,6.3,6.0,6.9,6.8,5.7,5.6,6.6,6.5,5.6,
  6.9,5.9,6.2,7.1,7.2,6.1,5.8,6.9,6.6,5.7,6.1,7.0,7.0,6.0,5.7,6.7,6.4,5.6,6.8,7.2,
  6.0,7.0,7.3,6.2,6.3,7.2,5.8,6.7,6.7,5.9,6.2,7.1,7.1,6.0,5.9,6.9,6.5,5.8,6.1,7.0,
  6.6,5.8,7.0,6.1,6.2,7.1,5.9,6.7,6.8,5.8,6.3,7.2,7.2,6.1,6.5,7.3,7.9,6.5,6.4,7.3,
  6.8,5.7,10.0,6.3,6.1,7.0,7.0,5.9,6.4,7.2,5.9,6.6,7.2,6.1,6.3,7.1,6.7,5.7,5.8,6.8,
  6.6,
];

type Series = { label: string; color: string; values: number[] };
type Panel = {
  title: string;
  left: number; top: number; w: number; h: number;
  area: { l: number; r: number; t: number; b: number };
  yMax: number; yStep: number;
  titlePos: { x: number; y: number };
  legend: { x: number; ys: number[] };
  yTitlePad: number; xTickPad: number; xTitlePad: number;
  series: Series[];
};

const PANELS: Panel[] = [
  {
    title: "GLU353", left: 0, top: 0, w: 530, h: 300,
    area: { l: 46, r: 505, t: 29, b: 258 }, yMax: 12, yStep: 2,
    titlePos: { x: 265, y: 23 }, legend: { x: 69, ys: [41, 69, 97] },
    yTitlePad: 9, xTickPad: 9, xTitlePad: 1,
    series: [
      { label: "BPA-GLU353", color: SERIES_COLORS.BPA, values: GLU353_BPA },
      { label: "BPS-GLU353", color: SERIES_COLORS.BPS, values: GLU353_BPS },
      { label: "BPF-GLU353", color: SERIES_COLORS.BPF, values: GLU353_BPF },
    ],
  },
  {
    title: "HIS524", left: 530, top: 0, w: 529, h: 300,
    area: { l: 53, r: 512, t: 25, b: 259 }, yMax: 14, yStep: 2,
    titlePos: { x: 273, y: 24 }, legend: { x: 426, ys: [52, 78, 103] },
    yTitlePad: 19, xTickPad: 8, xTitlePad: 1,
    series: [
      { label: "BPA-HIS524", color: SERIES_COLORS.BPA, values: HIS524_BPA },
      { label: "BPS-HIS524", color: SERIES_COLORS.BPS, values: HIS524_BPS },
      { label: "BPF-HIS524", color: SERIES_COLORS.BPF, values: HIS524_BPF },
    ],
  },
  {
    title: "ARG394", left: 0, top: 300, w: 530, h: 305,
    area: { l: 46, r: 507, t: 33, b: 261 }, yMax: 8, yStep: 1,
    titlePos: { x: 265, y: 26 }, legend: { x: 69, ys: [44, 72, 99] },
    yTitlePad: 9, xTickPad: 8, xTitlePad: 2,
    series: [
      { label: "BPA-ARG394", color: SERIES_COLORS.BPA, values: ARG394_BPA },
      { label: "BPS-ARG394", color: SERIES_COLORS.BPS, values: ARG394_BPS },
      { label: "BPF-ARG394", color: SERIES_COLORS.BPF, values: ARG394_BPF },
    ],
  },
  {
    title: "GLU419", left: 530, top: 300, w: 529, h: 305,
    area: { l: 55, r: 512, t: 27, b: 261 }, yMax: 18, yStep: 2,
    titlePos: { x: 273, y: 24 }, legend: { x: 425, ys: [53, 78, 103] },
    yTitlePad: 17, xTickPad: 8, xTitlePad: 2,
    series: [
      { label: "BPA-GLU419", color: SERIES_COLORS.BPA, values: GLU419_BPA },
      { label: "BPS-GLU419", color: SERIES_COLORS.BPS, values: GLU419_BPS },
      { label: "BPF-GLU419", color: SERIES_COLORS.BPF, values: GLU419_BPF },
    ],
  },
];

const TICK_COLOR = "#595959";
const AXIS_TITLE_COLOR = "#404040";
const AXIS_LINE_COLOR = "#BFBFBF";

function PanelChart({ p }: { p: Panel }) {
  const ref = useRef<HTMLCanvasElement | null>(null);
  useEffect(() => {
    if (!ref.current) return;
    const decor = {
      id: "decor",
      afterDraw(chart: any) {
        const ctx = chart.ctx as CanvasRenderingContext2D;
        ctx.save();
        ctx.font = "bold 18px Lato, 'Open Sans', sans-serif";
        ctx.fillStyle = "#000000";
        ctx.textAlign = "center";
        ctx.textBaseline = "middle";
        ctx.fillText(p.title, p.titlePos.x, p.titlePos.y);
        ctx.font = "10px Lato, 'Open Sans', sans-serif";
        ctx.textAlign = "left";
        p.series.forEach((s, k) => {
          const y = p.legend.ys[k];
          ctx.strokeStyle = s.color;
          ctx.lineWidth = 2;
          ctx.beginPath();
          ctx.moveTo(p.legend.x, y);
          ctx.lineTo(p.legend.x + 23, y);
          ctx.stroke();
          ctx.fillStyle = TICK_COLOR;
          ctx.fillText(s.label, p.legend.x + 26, y + 0.5);
        });
        ctx.restore();
      },
    };
    const chart = new Chart(ref.current, {
      type: "line",
      data: {
        datasets: p.series.map((s, k) => ({
          label: s.label,
          data: s.values.map((v, i) => ({ x: i * TIME_STEP_NS, y: v })),
          borderColor: s.color,
          backgroundColor: s.color,
          borderWidth: 1.5,
          pointRadius: 0,
          tension: 0,
          fill: false,
          order: p.series.length - k,
        })),
      },
      options: {
        responsive: false,
        animation: false,
        events: [],
        layout: { padding: { left: 0, right: p.w - p.area.r, top: p.area.t, bottom: 0 } },
        plugins: { legend: { display: false }, tooltip: { enabled: false }, title: { display: false } },
        scales: {
          x: {
            type: "linear",
            min: X_MIN,
            max: X_MAX,
            ticks: { stepSize: X_STEP, color: TICK_COLOR, font: { size: 10 }, padding: p.xTickPad, maxRotation: 0, autoSkip: false },
            grid: { display: false, drawTicks: false },
            border: { display: true, color: AXIS_LINE_COLOR, width: 1.5 },
            title: {
              display: true,
              text: "Time (nanoseconds)",
              color: AXIS_TITLE_COLOR,
              font: { size: 10, weight: "bold" },
              padding: { top: 0, bottom: p.xTitlePad },
            },
            afterFit: (s: any) => { s.height = p.h - p.area.b; },
          },
          y: {
            min: 0,
            max: p.yMax,
            ticks: { stepSize: p.yStep, color: TICK_COLOR, font: { size: 10 }, padding: 10 },
            grid: { display: false, drawTicks: false },
            border: { display: true, color: AXIS_LINE_COLOR, width: 1.5 },
            title: {
              display: true,
              text: "Distance (Å)",
              color: AXIS_TITLE_COLOR,
              font: { size: 10, weight: "bold" },
              padding: { top: p.yTitlePad, bottom: 0 },
            },
            afterFit: (s: any) => { s.width = p.area.l; },
          },
        },
      } as any,
      plugins: [decor],
    });
    return () => chart.destroy();
  }, [p]);
  return (
    <canvas
      ref={ref}
      width={p.w}
      height={p.h}
      style={{ position: "absolute", left: p.left, top: p.top, width: p.w, height: p.h }}
    />
  );
}

export default function App() {
  return (
    <div style={{ position: "absolute", left: 0, top: 0, width: 1059, height: 605, background: "#ffffff" }}>
      {PANELS.map((p) => (
        <PanelChart key={p.title} p={p} />
      ))}
    </div>
  );
}
